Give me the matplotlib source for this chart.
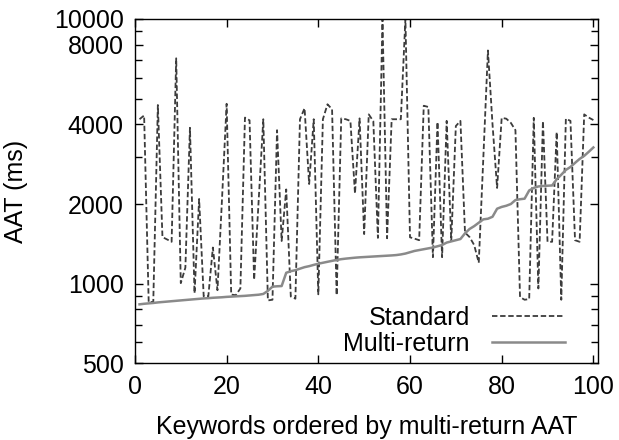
import numpy as np
import matplotlib
matplotlib.use("Agg")
import matplotlib.pyplot as plt
from matplotlib.ticker import FixedLocator, NullFormatter

plt.rcParams['font.family'] = ['Liberation Sans', 'DejaVu Sans']

# keyword index (ordered by multi-return AAT)
keywords = np.arange(1, 101)

# Standard AAT (ms)
standard = [
    4180, 4320, 850, 855, 4730, 1500, 1470, 1440, 7100, 1005,
    1150, 3880, 920, 2090, 895, 895, 1370, 945, 2100, 4780,
    910, 905, 960, 4240, 4140, 1035, 2080, 4180, 865, 870,
    3800, 1450, 2270, 895, 878, 4180, 4600, 2380, 4180, 912,
    4180, 4760, 4560, 905, 4210, 4180, 4120, 2190, 4210, 1540,
    4360, 4110, 1490, 10000, 1485, 4180, 4180, 4180, 10000, 1497,
    1480, 1460, 4700, 4650, 1260, 4080, 1260, 4120, 1450, 3940,
    4120, 1560, 1500, 1400, 1200, 3000, 7600, 4000, 2300, 4230,
    4200, 4050, 3800, 890, 870, 875, 4230, 960, 4110, 1440,
    1440, 3740, 870, 4200, 4120, 1460, 1440, 4360, 4240, 4150,
]

# Multi-return AAT (ms)
multi_return = [
    836, 840, 843, 846, 850, 853, 856, 859, 862, 865,
    868, 871, 874, 877, 880, 882, 885, 887, 889, 892,
    894, 896, 898, 900, 903, 906, 909, 915, 940, 975,
    978, 980, 1100, 1115, 1125, 1140, 1155, 1165, 1178, 1190,
    1200, 1210, 1220, 1230, 1238, 1244, 1249, 1254, 1258, 1261,
    1264, 1267, 1270, 1273, 1276, 1279, 1283, 1290, 1300, 1315,
    1330, 1340, 1350, 1360, 1370, 1385, 1400, 1430, 1445, 1460,
    1475, 1550, 1610, 1650, 1700, 1750, 1760, 1790, 1920, 1950,
    1970, 2000, 2070, 2085, 2095, 2250, 2300, 2330, 2340, 2345,
    2350, 2480, 2580, 2690, 2760, 2860, 2960, 3040, 3150, 3270,
]

y_major = [500, 1000, 2000, 4000, 8000, 10000]
y_minor = [600, 700, 800, 900, 3000, 5000, 6000, 7000, 9000]
x_ticks = [0, 20, 40, 60, 80, 100]

fs = 18

fig = plt.figure(figsize=(6.19, 4.40), dpi=100)
ax = fig.add_axes([0.218, 0.174, 0.748, 0.783])

ax.plot(keywords, standard, color='#3c3c3c', linewidth=1.3,
        linestyle=(0, (3, 1.5)), label='Standard')
ax.plot(keywords, multi_return, color='#8a8a8a', linewidth=1.8,
        label='Multi-return')

ax.set_yscale('log')
ax.set_ylim(500, 10000)
ax.set_xlim(0, 101)

ax.yaxis.set_major_locator(FixedLocator(y_major))
ax.yaxis.set_minor_locator(FixedLocator(y_minor))
ax.set_yticklabels([str(v) for v in y_major])
ax.yaxis.set_minor_formatter(NullFormatter())
ax.set_xticks(x_ticks)

ax.tick_params(which='both', direction='in', top=True, right=True,
               labelsize=fs, width=1.0)
ax.tick_params(which='major', length=6, pad=8)
ax.tick_params(which='minor', length=5)
for s in ax.spines.values():
    s.set_linewidth(1.0)

ax.set_xlabel('Keywords ordered by multi-return AAT', fontsize=fs, labelpad=12)
ax.set_ylabel('AAT (ms)', fontsize=fs, labelpad=19)

ax.legend(loc='lower right', bbox_to_anchor=(0.961, -0.022), frameon=False,
          markerfirst=False, fontsize=fs, handlelength=2.9,
          handletextpad=0.9, labelspacing=0.1, borderaxespad=0.2)

fig.savefig('out.png', dpi=100)
